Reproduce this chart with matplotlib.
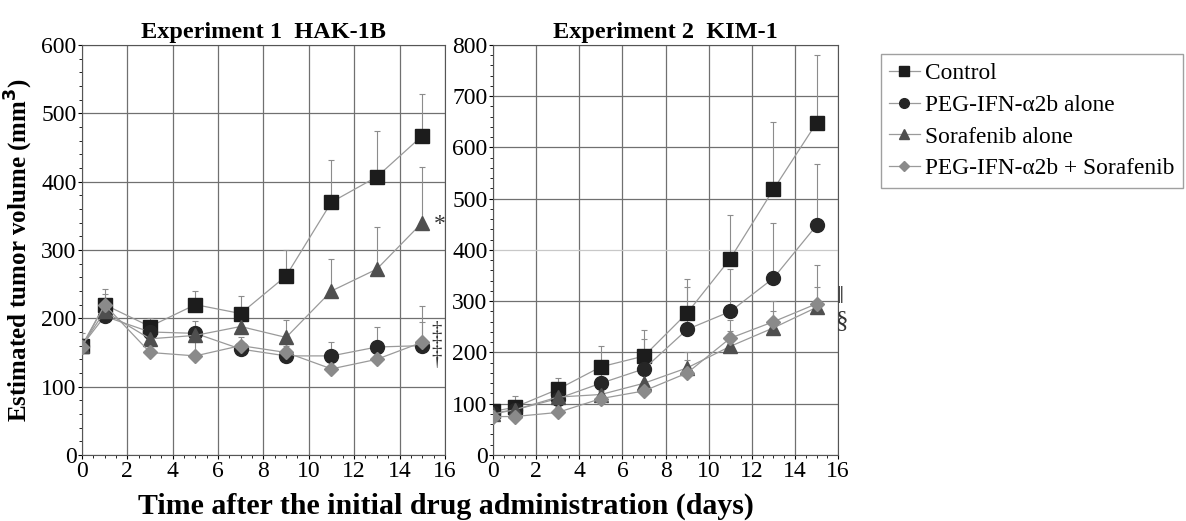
"""
Tumor volume over time, two xenograft experiments, with one-sided SD bars.
"""

import matplotlib
matplotlib.use("Agg")
import matplotlib.pyplot as plt
from matplotlib.ticker import MultipleLocator

plt.rcParams["font.family"] = ["Liberation Serif", "DejaVu Serif"]

days = [0, 1, 3, 5, 7, 9, 11, 13, 15]
labels = ["Control", "PEG-IFN-\u03b12b alone", "Sorafenib alone",
          "PEG-IFN-\u03b12b + Sorafenib"]

# Experiment 1 (HAK-1B): means and upper error
exp1_control = [160, 220, 188, 220, 207, 262, 370, 407, 467]
exp1_control_err = [18, 23, 12, 20, 26, 38, 62, 67, 61]
exp1_peg = [160, 203, 180, 178, 155, 145, 145, 158, 160]
exp1_peg_err = [10, 12, 10, 18, 10, 8, 21, 29, 35]
exp1_sora = [160, 210, 170, 175, 188, 172, 240, 272, 340]
exp1_sora_err = [10, 14, 14, 12, 18, 26, 47, 61, 81]
exp1_combo = [158, 220, 150, 145, 160, 150, 126, 140, 165]
exp1_combo_err = [8, 16, 10, 20, 12, 10, 10, 12, 53]

# Experiment 2 (KIM-1)
exp2_control = [85, 93, 128, 172, 193, 277, 383, 518, 648]
exp2_control_err = [10, 22, 22, 40, 50, 66, 85, 132, 132]
exp2_peg = [82, 88, 110, 140, 168, 245, 280, 345, 448]
exp2_peg_err = [8, 15, 18, 30, 58, 83, 83, 107, 120]
exp2_sora = [80, 88, 113, 118, 140, 170, 212, 248, 288]
exp2_sora_err = [8, 12, 15, 20, 25, 30, 30, 32, 40]
exp2_combo = [75, 75, 83, 110, 125, 160, 228, 260, 295]
exp2_combo_err = [6, 8, 10, 15, 20, 25, 35, 40, 75]

styles = [
    dict(marker="s", color="#1c1c1c", ms=10),
    dict(marker="o", color="#262626", ms=10),
    dict(marker="^", color="#4f4f4f", ms=10),
    dict(marker="D", color="#8a8a8a", ms=7),
]


def draw_panel(ax, series, ymax, title):
    lines = []
    for (y, err), st, lab in zip(series, styles, labels):
        cont = ax.errorbar(days, y, yerr=[[0] * len(err), err], color="#9a9a9a",
                           ecolor="#8c8c8c", elinewidth=0.8, capsize=2.5,
                           capthick=0.8, lw=0.9, marker=st["marker"],
                           ms=st["ms"], mfc=st["color"], mec=st["color"],
                           zorder=3)
        cont[0].set_label(lab)
        lines.append(cont[0])
    ax.set_xlim(0, 16)
    ax.set_ylim(0, ymax)
    ax.xaxis.set_major_locator(MultipleLocator(2))
    ax.xaxis.set_minor_locator(MultipleLocator(0.5))
    ax.yaxis.set_major_locator(MultipleLocator(100))
    ax.yaxis.set_minor_locator(MultipleLocator(20))
    ax.grid(True, which="major", color="#707070", lw=0.9)
    ax.set_axisbelow(True)
    ax.tick_params(which="major", length=3, labelsize=17, pad=1)
    ax.tick_params(which="minor", length=2)
    for s in ax.spines.values():
        s.set_color("#555555")
    ax.set_title(title, fontsize=17.5, fontweight="bold", pad=5)
    return lines


fig = plt.figure(figsize=(11.86, 5.21), dpi=100)
ax1 = fig.add_axes([0.0691, 0.1267, 0.306, 0.787])
ax2 = fig.add_axes([0.4157, 0.1267, 0.291, 0.787])

draw_panel(ax1, [(exp1_control, exp1_control_err), (exp1_peg, exp1_peg_err),
                 (exp1_sora, exp1_sora_err), (exp1_combo, exp1_combo_err)],
           600, "Experiment 1  HAK-1B")
handles = draw_panel(ax2, [(exp2_control, exp2_control_err), (exp2_peg, exp2_peg_err),
                           (exp2_sora, exp2_sora_err), (exp2_combo, exp2_combo_err)],
                     800, "Experiment 2  KIM-1")

# the 500 line on the right panel is printed lighter in the original
ax2.get_ygridlines()[5].set_color("#c8c8c8")

# significance marks
ax1.text(15.5, 338, "*", fontsize=17, va="center", ha="left", color="#333333")
ax1.text(15.4, 160, "\u2021\n\u2021\n\u2020", fontsize=15, va="center",
         ha="left", color="#333333", linespacing=0.72)
ax2.text(15.9, 308, "\u2016", fontsize=18, va="center", ha="left",
         color="#333333", clip_on=False)
ax2.text(15.9, 262, "\u00a7", fontsize=18, va="center", ha="left",
         color="#333333", clip_on=False)

ax1.set_ylabel("Estimated tumor volume (mm$^\\mathbf{3}$)", fontsize=18,
               fontweight="bold", labelpad=4)
fig.text(0.376, 0.015, "Time after the initial drug administration (days)",
         fontsize=21.5, fontweight="bold", ha="center")

leg = fig.legend(handles, labels, loc="upper left", bbox_to_anchor=(0.733, 0.918),
                 fontsize=16.8, frameon=True, fancybox=False, edgecolor="#888888",
                 handlelength=1.3, handletextpad=0.25, borderpad=0.35,
                 labelspacing=0.45, markerscale=0.7)

fig.savefig("out.png", dpi=100)
